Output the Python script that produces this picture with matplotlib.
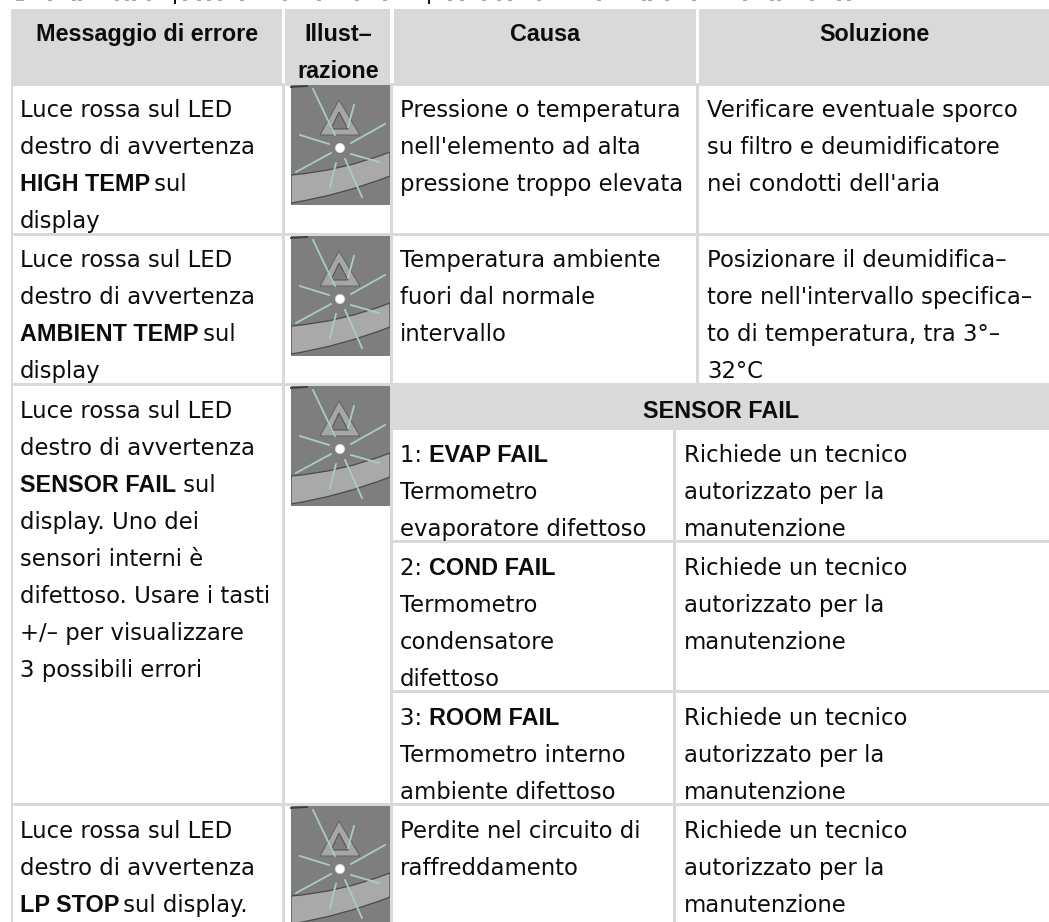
#!/usr/bin/env python3

import matplotlib
matplotlib.use("Agg")
import matplotlib.pyplot as plt
from matplotlib.patches import Rectangle, Polygon, Circle, PathPatch
from matplotlib.path import Path

GREY = "#d9d9d9"
INK = "#0c0c0c"
REG_SIZE = 16.4
BOLD_SIZE = 16.8
BOLD_FONT = "Liberation Sans"

headers = ["Messaggio di errore", "Illust–\nrazione", "Causa", "Soluzione"]
sensor_title = "SENSOR FAIL"

# each line is a list of (text, is_bold) runs
msg_high = [[("Luce rossa sul LED", 0)], [("destro di avvertenza", 0)], [("HIGH TEMP", 1), (" sul", 0)], [("display", 0)]]
msg_ambient = [[("Luce rossa sul LED", 0)], [("destro di avvertenza", 0)], [("AMBIENT TEMP", 1), (" sul", 0)], [("display", 0)]]
msg_sensor = [[("Luce rossa sul LED", 0)], [("destro di avvertenza", 0)], [("SENSOR FAIL", 1), (" sul", 0)],
              [("display. Uno dei", 0)], [("sensori interni è", 0)], [("difettoso. Usare i tasti", 0)],
              [("+/– per visualizzare", 0)], [("3 possibili errori", 0)]]
msg_lp = [[("Luce rossa sul LED", 0)], [("destro di avvertenza", 0)], [("LP STOP", 1), (" sul display.", 0)]]

cause_high = ["Pressione o temperatura", "nell'elemento ad alta", "pressione troppo elevata"]
fix_high = ["Verificare eventuale sporco", "su filtro e deumidificatore", "nei condotti dell'aria"]
cause_ambient = ["Temperatura ambiente", "fuori dal normale", "intervallo"]
fix_ambient = ["Posizionare il deumidifica–", "tore nell'intervallo specifica–", "to di temperatura, tra 3°–", "32°C"]
cause_lp = ["Perdite nel circuito di", "raffreddamento"]

tech = ["Richiede un tecnico", "autorizzato per la", "manutenzione"]
sensor_1 = [[("1: ", 0), ("EVAP FAIL", 1)], [("Termometro", 0)], [("evaporatore difettoso", 0)]]
sensor_2 = [[("2: ", 0), ("COND FAIL", 1)], [("Termometro", 0)], [("condensatore", 0)], [("difettoso", 0)]]
sensor_3 = [[("3: ", 0), ("ROOM FAIL", 1)], [("Termometro interno", 0)], [("ambiente difettoso", 0)]]

# what is left of the text line cut off at the top edge
top_stems = [174, 428]
top_specks = [16, 20, 48, 72, 78, 115, 125, 132, 147, 183, 197, 207, 218, 240, 283, 317, 355, 383,
              448, 460, 482, 497, 508, 537, 597, 642, 648, 665, 692, 743, 770, 777, 810, 837, 847]

# icon shapes, in pixels inside the 99x120 picture
ray_segments = [((22, 4), (44, 50)), ((63, 20), (57, 42)), ((94, 39), (60, 58)), ((9, 50), (38, 59)),
                ((40, 68), (5, 87)), ((60, 69), (88, 77)), ((45, 78), (39, 102)), ((54, 74), (71, 112))]
tri_outer = [(48, 15), (29, 50), (69, 50)]
tri_inner = [(48, 27), (40, 44), (57, 44)]

fig = plt.figure(figsize=(10.49, 9.22), dpi=100)
ax = fig.add_axes([0, 0, 1, 1])
ax.set_xlim(0, 1049)
ax.set_ylim(922, 0)
ax.axis("off")


def box(x0, y0, x1, y1, color=GREY, z=1):
	ax.add_patch(Rectangle((x0, y0), x1 - x0, y1 - y0, fc=color, ec="none", zorder=z))


def text_kw(is_bold):
	if is_bold:
		return dict(fontsize=BOLD_SIZE, fontweight="bold", family=BOLD_FONT)
	return dict(fontsize=REG_SIZE)


def put_runs(x, y, runs):
	renderer = fig.canvas.get_renderer()
	for txt, is_bold in runs:
		kw = text_kw(is_bold)
		ax.text(x, y, txt, color=INK, va="baseline", ha="left", zorder=5, **kw)
		# spaces at the ends are not measured, so measure with a dot behind
		probe = ax.text(0, 0, txt + ".", **kw)
		dot = ax.text(0, 0, ".", **kw)
		x += probe.get_window_extent(renderer).width - dot.get_window_extent(renderer).width
		probe.remove()
		dot.remove()


def put_block(x, baseline, lines):
	for i, line in enumerate(lines):
		if isinstance(line, str):
			line = [(line, 0)]
		put_runs(x, baseline + i * 37, line)


def icon(x0, y0):
	w, h = 99, 120
	clip = Rectangle((x0, y0), w, h, transform=ax.transData)
	box(x0, y0, x0 + w, y0 + h, "#7e7e7e", 2)
	band = Path([(x0, y0 + 90), (x0 + 50, y0 + 86), (x0 + 99, y0 + 67),
		(x0 + 99, y0 + 91), (x0 + 50, y0 + 110), (x0, y0 + 118), (x0, y0 + 90)],
		[Path.MOVETO, Path.CURVE3, Path.CURVE3, Path.LINETO, Path.CURVE3, Path.CURVE3, Path.CLOSEPOLY])
	p = PathPatch(band, fc="#a9a9a9", ec="#4a4a4a", lw=0.9, zorder=3)
	ax.add_patch(p)
	p.set_clip_path(clip)
	ax.add_patch(Polygon([(x0 + a, y0 + b) for a, b in tri_outer], fc="#a6a6a6", ec="#606060", lw=0.7, zorder=3))
	ax.add_patch(Polygon([(x0 + a, y0 + b) for a, b in tri_inner], fc="#7e7e7e", ec="#505050", lw=0.7, zorder=3))
	ax.plot([x0, x0 + 16], [y0 + 2, y0 + 1], color="#3c3c3c", lw=1.3, zorder=3, clip_path=clip)
	for a, b in ray_segments:
		ax.plot([x0 + a[0], x0 + b[0]], [y0 + a[1], y0 + b[1]], color="#a8ccc8", lw=1.3, zorder=4, clip_path=clip)
	ax.add_patch(Circle((x0 + 49, y0 + 63), 4.6, fc="white", ec="#dddddd", lw=0.5, zorder=4))


# cut off text line at the top
for x in top_specks:
	box(x, 0, x + 4, 1.2, "#a8a8a8", 2)
for x in top_stems:
	box(x, 0, x + 2, 4, "#111111", 2)

# header band
box(11, 9, 1049, 86)
for x0, x1 in [(282, 285), (390, 394), (696, 699)]:
	box(x0, 9, x1, 83, "white", 2)

# grid lines of the body
box(11, 86, 13, 922)
box(282, 86, 285, 922)
box(390, 86, 393, 922)
box(696, 86, 699, 383)
box(673, 430, 676, 922)
box(11, 233, 1049, 236)
box(11, 383, 1049, 386)
box(393, 383, 1049, 430)
box(393, 540, 1049, 543)
box(393, 690, 1049, 693)
box(11, 803, 1049, 806)

# header text
for cx, txt in zip([147, 338, 545, 875], headers):
	for i, part in enumerate(txt.split("\n")):
		ax.text(cx, 41 + i * 37, part, color=INK, ha="center", va="baseline", zorder=5, **text_kw(1))
ax.text(721, 418, sensor_title, color=INK, ha="center", va="baseline", zorder=5, **text_kw(1))

for y in [85, 236, 386, 806]:
	icon(291, y)

fig.canvas.draw()

put_block(20, 117, msg_high)
put_block(20, 267, msg_ambient)
put_block(20, 418, msg_sensor)
put_block(20, 838, msg_lp)

put_block(400, 117, cause_high)
put_block(707, 117, fix_high)
put_block(400, 267, cause_ambient)
put_block(707, 267, fix_ambient)

put_block(400, 462, sensor_1)
put_block(684, 462, tech)
put_block(400, 575, sensor_2)
put_block(684, 575, tech)
put_block(400, 725, sensor_3)
put_block(684, 725, tech)
put_block(400, 838, cause_lp)
put_block(684, 838, tech)

fig.savefig("out.png", dpi=100)
